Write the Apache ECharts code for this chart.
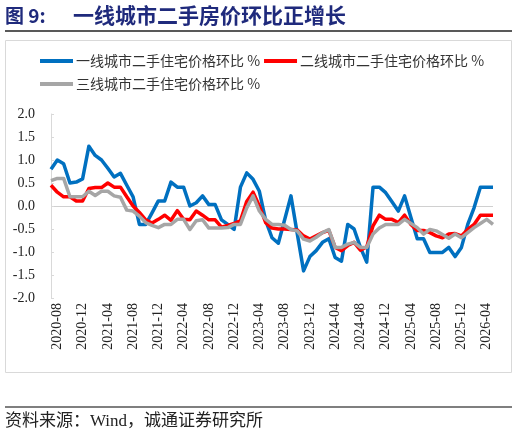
<!DOCTYPE html>
<html>
<head>
<meta charset="utf-8">
<script src="https://cdn.jsdelivr.net/npm/echarts@6/dist/echarts.min.js"></script>
<style>
  html, body { margin: 0; padding: 0; background: #fff; }
  #chart { width: 518px; height: 437px; }
</style>
</head>
<body>
<div id="chart"></div>
<script>
// months 2020-07 .. 2026-05
const months = [
  '2020-07','2020-08','2020-09','2020-10','2020-11','2020-12',
  '2021-01','2021-02','2021-03','2021-04','2021-05','2021-06','2021-07','2021-08','2021-09','2021-10','2021-11','2021-12',
  '2022-01','2022-02','2022-03','2022-04','2022-05','2022-06','2022-07','2022-08','2022-09','2022-10','2022-11','2022-12',
  '2023-01','2023-02','2023-03','2023-04','2023-05','2023-06','2023-07','2023-08','2023-09','2023-10','2023-11','2023-12',
  '2024-01','2024-02','2024-03','2024-04','2024-05','2024-06','2024-07','2024-08','2024-09','2024-10','2024-11','2024-12',
  '2025-01','2025-02','2025-03','2025-04','2025-05','2025-06','2025-07','2025-08','2025-09','2025-10','2025-11','2025-12',
  '2026-01','2026-02','2026-03','2026-04','2026-05'
]

const tier1 = [
  0.8, 1.0, 0.92, 0.5, 0.52, 0.59, 1.3, 1.1, 1.0, 0.82, 0.63, 0.71, 0.45, 0.2, -0.4, -0.4, -0.15, 0.11,
  0.11, 0.52, 0.41, 0.41, 0.0, 0.07, 0.22, 0.03, 0.03, -0.3, -0.4, -0.51,
  0.41, 0.72, 0.58, 0.32, -0.32, -0.69, -0.81, -0.3, 0.22, -0.6, -1.41, -1.1,
  -0.97, -0.79, -0.71, -1.12, -1.2, -0.4, -0.5, -0.9, -1.22, 0.41, 0.41, 0.29,
  0.09, -0.11, 0.22, -0.25, -0.71, -0.71, -1.01, -1.01, -1.01, -0.9, -1.1, -0.9,
  -0.4, -0.04, 0.41, 0.41, 0.41
]

const tier2 = [
  0.45, 0.3, 0.2, 0.2, 0.11, 0.11, 0.38, 0.4, 0.4, 0.5, 0.41, 0.41, 0.2, 0.0, -0.14, -0.3, -0.37, -0.29,
  -0.2, -0.31, -0.1, -0.29, -0.3, -0.11, -0.2, -0.3, -0.3, -0.46, -0.42, -0.38,
  -0.32, 0.1, 0.3, 0.0, -0.36, -0.48, -0.5, -0.5, -0.51, -0.52, -0.65, -0.72,
  -0.65, -0.58, -0.53, -0.9, -0.97, -0.86, -0.79, -0.96, -0.89, -0.43, -0.2, -0.29,
  -0.29, -0.36, -0.2, -0.4, -0.53, -0.53, -0.58, -0.65, -0.69, -0.61, -0.6, -0.65,
  -0.51, -0.4, -0.2, -0.2, -0.2
]

const tier3 = [
  0.55, 0.6, 0.6, 0.2, 0.2, 0.2, 0.32, 0.23, 0.32, 0.32, 0.22, 0.19, -0.09, -0.11, -0.22, -0.36, -0.42, -0.47,
  -0.4, -0.4, -0.29, -0.29, -0.51, -0.32, -0.3, -0.48, -0.48, -0.48, -0.47, -0.4,
  -0.4, -0.04, 0.22, -0.11, -0.29, -0.4, -0.4, -0.42, -0.51, -0.54, -0.72, -0.76,
  -0.68, -0.58, -0.51, -0.9, -0.9, -0.83, -0.79, -0.9, -0.9, -0.61, -0.48, -0.4,
  -0.4, -0.4, -0.29, -0.38, -0.47, -0.61, -0.51, -0.54, -0.62, -0.7, -0.61, -0.69,
  -0.58, -0.47, -0.38, -0.29, -0.4
]

const seriesNames = [
  '一线城市二手住宅价格环比 %',
  '二线城市二手住宅价格环比 %',
  '三线城市二手住宅价格环比 %'
]
const colors = ['#0070C0', '#FF0000', '#A6A6A6']

const serif = "'Liberation Serif', 'Times New Roman', 'Noto Sans CJK SC', serif"
const cjk = "'Noto Sans CJK SC', sans-serif"

const chart = echarts.init(document.getElementById('chart'), null, { renderer: 'canvas' })

const legendBase = {
  left: 40,
  padding: 0,
  icon: 'rect',
  itemWidth: 33,
  itemHeight: 4,
  itemGap: 4,
  textStyle: { fontFamily: cjk, fontSize: 14, color: '#333', padding: [0, 0, 0, -2] }
}

const option = {
  animation: false,
  color: colors,
  title: {
    left: 5,
    top: 5,
    padding: 0,
    text: '{a|图 9:}{b|一线城市二手房价环比正增长}',
    textStyle: {
      rich: {
        a: { fontFamily: cjk, fontSize: 19, fontWeight: 'bold', color: '#1f2a7c', width: 68 },
        b: { fontFamily: cjk, fontSize: 21, fontWeight: 'bold', color: '#1f2a7c' }
      }
    }
  },
  legend: [
    Object.assign({}, legendBase, { top: 54, data: [seriesNames[0], seriesNames[1]] }),
    Object.assign({}, legendBase, { top: 77, data: [seriesNames[2]] })
  ],
  grid: { left: 51, right: 25, top: 114, bottom: 139 },
  xAxis: {
    type: 'category',
    data: months,
    boundaryGap: false,
    axisLine: { show: false },
    axisTick: { show: false },
    axisLabel: {
      interval: (i) => i % 4 === 1,
      rotate: 90,
      margin: 5,
      fontFamily: serif,
      fontSize: 14,
      color: '#222'
    },
    splitLine: { show: false }
  },
  yAxis: {
    type: 'value',
    min: -2,
    max: 2,
    interval: 0.5,
    axisLine: { show: true, lineStyle: { color: '#d9d9d9' } },
    axisTick: { show: true, inside: true, length: 3, lineStyle: { color: '#d9d9d9' } },
    axisLabel: {
      margin: 16,
      fontFamily: serif,
      fontSize: 14,
      color: '#222',
      formatter: (v) => v.toFixed(1)
    },
    splitLine: {
      show: true,
      lineStyle: {
        color: ['transparent', 'transparent', 'transparent', 'transparent', '#d0d0d0',
          'transparent', 'transparent', 'transparent', 'transparent'],
        width: 1
      }
    }
  },
  series: [tier1, tier2, tier3].map((d, i) => ({
    name: seriesNames[i],
    type: 'line',
    data: d,
    symbol: 'none',
    lineStyle: { width: 3.5, color: colors[i], join: 'round' },
    itemStyle: { color: colors[i] },
    z: 2 + i
  })),
  graphic: [
    { type: 'line', shape: { x1: 5, y1: 31, x2: 512, y2: 31 }, style: { stroke: '#222', lineWidth: 1.5 } },
    { type: 'rect', shape: { x: 5.5, y: 40.5, width: 506, height: 332 }, style: { fill: 'none', stroke: '#d9d9d9', lineWidth: 1 } },
    { type: 'line', shape: { x1: 5, y1: 407, x2: 512, y2: 407 }, style: { stroke: '#555', lineWidth: 1.5 } },
    {
      type: 'text', left: 5, top: 413,
      style: { text: '资料来源：Wind，诚通证券研究所', font: "17px 'Liberation Serif', 'Noto Sans CJK SC'", fill: '#222' }
    }
  ]
}

chart.setOption(option)
</script>
</body>
</html>
